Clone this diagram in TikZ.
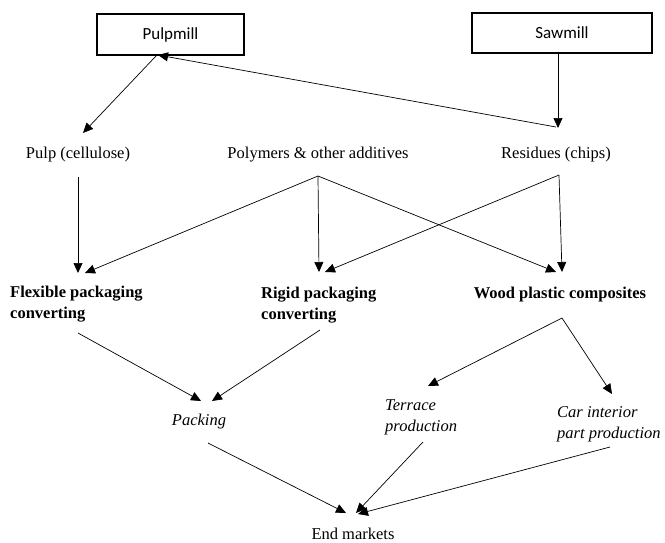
\documentclass[tikz,border=0pt]{standalone}
\usepackage{fontspec}
\setmainfont{Liberation Serif}
\newfontfamily\boxfont{Carlito}
\usetikzlibrary{arrows.meta}
\begin{document}
\begin{tikzpicture}[x=1pt,y=-1pt,
  every node/.style={inner sep=0pt, font=\fontsize{16.5}{21}\selectfont},
  millbox/.style={draw, line width=1.3pt, minimum width=147pt, minimum height=41pt,
                  font=\boxfont\fontsize{17}{20}\selectfont},
  plain/.style={},
  stage/.style={font=\bfseries\fontsize{16.5}{21}\selectfont, align=left, anchor=west},
  product/.style={font=\itshape\fontsize{16.5}{21}\selectfont, align=left},
  arr/.style={-{Triangle[length=10pt,width=9pt]}, line width=0.7pt}
]
\useasboundingbox (0,0) rectangle (665,542);

% sources
\node[millbox] (pulpmill) at (170.5,34.5) {Pulpmill};
\node[millbox, minimum width=180pt, minimum height=40pt] (sawmill) at (562,33) {Sawmill};

% raw materials
\node[plain] (pulp)  at (78,155)  {Pulp (cellulose)};
\node[plain] (poly)  at (318,155) {Polymers \& other additives};
\node[plain] (resid) at (556,155) {Residues (chips)};

% converting stages
\node[stage] (flex)  at (10,304)  {Flexible packaging\\converting};
\node[stage] (rigid) at (261,305) {Rigid packaging\\converting};
\node[font=\bfseries\fontsize{16.5}{21}\selectfont] (wpc) at (560,295) {Wood plastic composites};

% products
\node[product] (packing) at (199,422) {Packing};
\node[product, anchor=west] (terrace) at (385,417) {Terrace\\production};
\node[product, anchor=west] (car) at (557,424) {Car interior\\part production};

\node[plain] (endm) at (353,534) {End markets};

% mills to raw materials
\draw[arr] ([shift={(-14.5,21.5)}]pulpmill.center) -- ([shift={(5,-22)}]pulp.center);
\draw[arr] ([shift={(-4,20)}]sawmill.center) -- ([shift={(2,-27)}]resid.center);
\draw[arr] ([shift={(0,-28)}]resid.center) -- ([shift={(-12.5,20.5)}]pulpmill.center);

% raw materials to converting
\draw[arr] ([shift={(0,22)}]pulp.center) -- ([shift={(68,-31)}]flex.west);
\draw[arr] ([shift={(0,21)}]poly.center) -- ([shift={(75,-31)}]flex.west);
\draw[arr] ([shift={(0,21)}]poly.center) -- ([shift={(58,-33)}]rigid.west);
\draw[arr] ([shift={(0,21)}]poly.center) -- ([shift={(-4,-23)}]wpc.center);
\draw[arr] ([shift={(3,20)}]resid.center) -- ([shift={(64,-33)}]rigid.west);
\draw[arr] ([shift={(3,20)}]resid.center) -- ([shift={(2,-23)}]wpc.center);

% converting to products
\draw[arr] ([shift={(68,29)}]flex.west) -- ([shift={(2,-21)}]packing.center);
\draw[arr] ([shift={(59,25)}]rigid.west) -- ([shift={(13,-21)}]packing.center);
\draw[arr] ([shift={(2,23)}]wpc.center) -- ([shift={(43,-31)}]terrace.west);
\draw[arr] ([shift={(2,23)}]wpc.center) -- ([shift={(55,-30)}]car.west);

% products to end markets
\draw[arr] ([shift={(9,21)}]packing.center) -- ([shift={(-7,-21)}]endm.center);
\draw[arr] ([shift={(38,25)}]terrace.west) -- ([shift={(3,-21)}]endm.center);
\draw[arr] ([shift={(53,23)}]car.west) -- ([shift={(5,-20)}]endm.center);
\end{tikzpicture}
\end{document}
